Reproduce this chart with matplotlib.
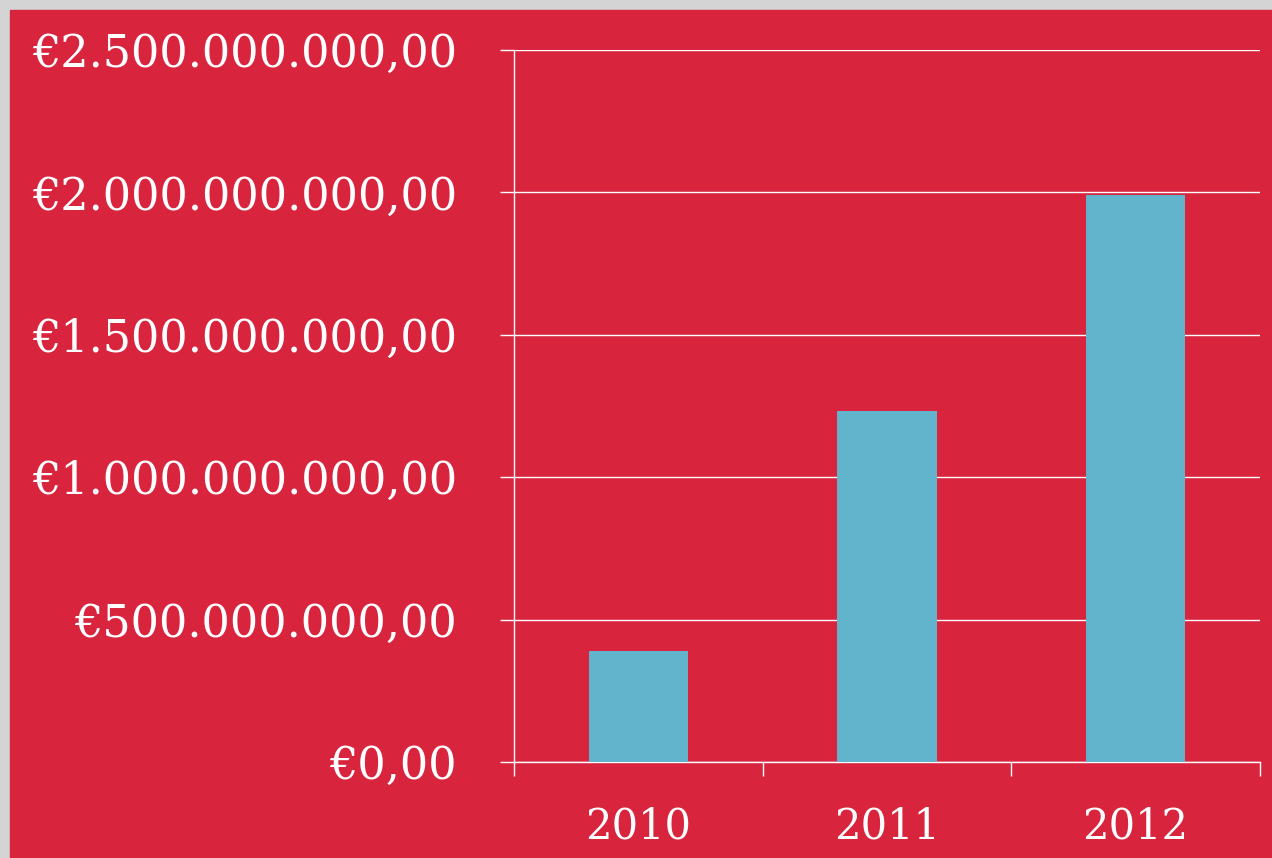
import matplotlib.pyplot as plt
import matplotlib.ticker as ticker
from matplotlib.patches import Rectangle

# data
years = ['2010', '2011', '2012']
amounts = [390_000_000, 1_232_000_000, 1_991_000_000]
y_ticks = [0, 500_000_000, 1_000_000_000, 1_500_000_000, 2_000_000_000, 2_500_000_000]

red = '#D9243E'
bar_color = '#62B3CC'
border = '#D4D4D4'

plt.rcParams['font.family'] = ['DejaVu Serif']

fig = plt.figure(figsize=(12.72, 8.58), dpi=100)
fig.patch.set_facecolor(border)
# red panel, leaving the thin gray edge at top and left
fig.add_artist(Rectangle((10 / 1272, 0), 1, (858 - 10) / 858,
                         transform=fig.transFigure, color=red, zorder=-1))

ax = fig.add_axes([514 / 1272, 96 / 858, 746 / 1272, 712 / 858])
ax.set_facecolor('none')

x = range(len(years))
ax.bar(x, amounts, width=0.4, color=bar_color, zorder=3)

ax.set_xlim(-0.5, len(years) - 0.5)
ax.set_ylim(0, 2_500_000_000)

# euro format with dots for thousands
def euro(v, pos=None):
    s = f'{v:,.2f}'.replace(',', 'X').replace('.', ',').replace('X', '.')
    return '€' + s

ax.set_yticks(y_ticks)
ax.yaxis.set_major_formatter(ticker.FuncFormatter(euro))
ax.tick_params(axis='y', colors='white', labelsize=32, length=10, width=1, pad=31)

# category boundaries as ticks, labels in the middle
ax.set_xticks([i - 0.5 for i in range(len(years) + 1)])
ax.set_xticklabels([])
ax.set_xticks(list(x), minor=True)
ax.set_xticklabels(years, minor=True)
ax.tick_params(axis='x', which='major', colors='white', length=10, width=1)
ax.tick_params(axis='x', which='minor', colors='white', labelsize=30, length=0, pad=31)

ax.grid(axis='y', color='white', linewidth=1, zorder=0)
for side in ['top', 'right']:
    ax.spines[side].set_visible(False)
for side in ['left', 'bottom']:
    ax.spines[side].set_color('white')
    ax.spines[side].set_linewidth(1)

plt.savefig('out.png', dpi=100)
